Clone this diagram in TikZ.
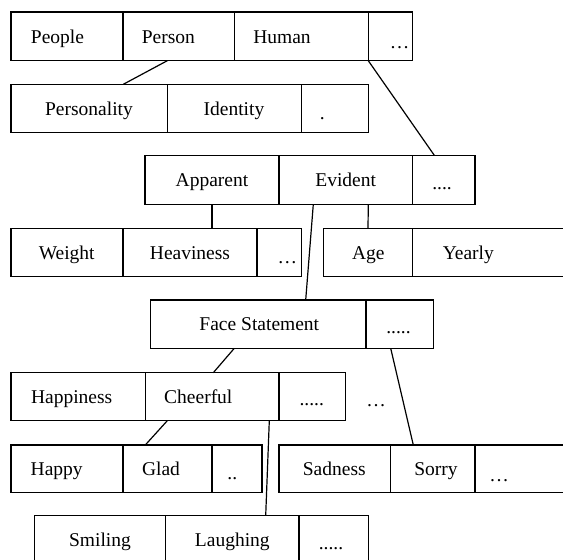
\documentclass[tikz,border=0pt]{standalone}
\usepackage{fontspec}
\setmainfont{Liberation Serif}
\begin{document}
\begin{tikzpicture}[x=1pt,y=-1pt,
  cell/.style={draw,line width=1.5pt,rectangle,inner sep=0pt,outer sep=0pt,anchor=north west},
  txt/.style={anchor=base,inner sep=0pt,font=\fontsize{19.5}{23}\selectfont},
  link/.style={line width=1.2pt}]
\useasboundingbox (0,0) rectangle (563,560);
\clip (0,0) rectangle (563,560);
\fill[white] (0,0) rectangle (563,560);
% Row 1
\node[cell,minimum width=112pt,minimum height=48.7pt] (people) at (11,12) {};
\node[cell,minimum width=111.7pt,minimum height=48.7pt] (person) at (123,12) {};
\node[cell,minimum width=133.6pt,minimum height=48.7pt] (human) at (234.7,12) {};
\node[cell,minimum width=44.4pt,minimum height=48.7pt] (dots1) at (368.3,12) {};
\node[txt] (tpeople) at (57.5,43) {People};
\node[txt] (tperson) at (168.3,43) {Person};
\node[txt] (thuman) at (282,43) {Human};
\node[txt] (tdots1) at (399.5,48) {…};
% Row 2
\node[cell,minimum width=156.3pt,minimum height=48.4pt] (personality) at (11,84.3) {};
\node[cell,minimum width=134.4pt,minimum height=48.4pt] (identity) at (167.3,84.3) {};
\node[cell,minimum width=66.6pt,minimum height=48.4pt] (dots2) at (301.7,84.3) {};
\node[txt] (tpersonality) at (89,115) {Personality};
\node[txt] (tidentity) at (234,115) {Identity};
\node[txt] (tdots2) at (322.3,119.5) {.};
% Row 3
\node[cell,minimum width=134pt,minimum height=49pt] (apparent) at (145,155.3) {};
\node[cell,minimum width=133.7pt,minimum height=49pt] (evident) at (279,155.3) {};
\node[cell,minimum width=62.3pt,minimum height=49pt] (dots3) at (412.7,155.3) {};
\node[txt] (tapparent) at (212,186.3) {Apparent};
\node[txt] (tevident) at (345.7,186.3) {Evident};
\node[txt] (tdots3) at (442,189.5) {....};
% Row 4
\node[cell,minimum width=112pt,minimum height=48.4pt] (weight) at (11,228.3) {};
\node[cell,minimum width=134pt,minimum height=48.4pt] (heaviness) at (123,228.3) {};
\node[cell,minimum width=44.7pt,minimum height=48.4pt] (dots4) at (257,228.3) {};
\node[cell,minimum width=89.4pt,minimum height=48.4pt] (age) at (323.3,228.3) {};
\node[cell,minimum width=170pt,minimum height=48.4pt] (yearly) at (412.7,228.3) {};
\node[txt] (tweight) at (66.7,259) {Weight};
\node[txt] (theaviness) at (190,259) {Heaviness};
\node[txt] (tdots4) at (287.3,263) {…};
\node[txt] (tage) at (368.3,259) {Age};
\node[txt] (tyearly) at (468.3,259) {Yearly};
% Row 5
\node[cell,minimum width=215.3pt,minimum height=48.3pt] (face) at (150.7,300) {};
\node[cell,minimum width=67.3pt,minimum height=48.3pt] (dots5) at (366,300) {};
\node[txt] (tface) at (259.3,330.7) {Face Statement};
\node[txt] (tdots5) at (398.5,333.5) {.....};
% Row 6
\node[cell,minimum width=134.3pt,minimum height=48pt] (happiness) at (11,372.7) {};
\node[cell,minimum width=133.7pt,minimum height=48pt] (cheerful) at (145.3,372.7) {};
\node[cell,minimum width=66.7pt,minimum height=48pt] (dots6) at (279,372.7) {};
\node[txt] (thappiness) at (71.7,403.2) {Happiness};
\node[txt] (tcheerful) at (198.3,403.2) {Cheerful};
\node[txt] (tdots6) at (311.7,405) {.....};
\node[txt] (tdots6b) at (376,406.5) {…};
% Row 7
\node[cell,minimum width=112pt,minimum height=47.7pt] (happy) at (11,445) {};
\node[cell,minimum width=89pt,minimum height=47.7pt] (glad) at (123,445) {};
\node[cell,minimum width=50pt,minimum height=47.7pt] (dots7) at (212,445) {};
\node[cell,minimum width=111.7pt,minimum height=47.7pt] (sadness) at (279,445) {};
\node[cell,minimum width=84.3pt,minimum height=47.7pt] (sorry) at (390.7,445) {};
\node[cell,minimum width=120pt,minimum height=47.7pt] (dots7b) at (475,445) {};
\node[txt] (thappy) at (56.7,475.3) {Happy};
\node[txt] (tglad) at (161,475.3) {Glad};
\node[txt] (tdots7) at (232.3,479) {..};
\node[txt] (tsadness) at (334.3,475.3) {Sadness};
\node[txt] (tsorry) at (436,475.3) {Sorry};
\node[txt] (tdots7b) at (499,481) {…};
% Row 8
\node[cell,minimum width=131.4pt,minimum height=50pt] (smiling) at (34.3,515.7) {};
\node[cell,minimum width=133.3pt,minimum height=50pt] (laughing) at (165.7,515.7) {};
\node[cell,minimum width=69.3pt,minimum height=50pt] (dots8) at (299,515.7) {};
\node[txt] (tsmiling) at (100,546.5) {Smiling};
\node[txt] (tlaughing) at (232.3,546.5) {Laughing};
\node[txt] (tdots8) at (331,549.5) {.....};
% Connectors
\draw[link] ([xshift=44.3pt]person.south west) -- ([xshift=112.3pt]personality.north west);
\draw[link] (human.south east) -- ([xshift=21.6pt]dots3.north west);
\draw[link] ([xshift=67pt]apparent.south west) -- ([xshift=89pt]heaviness.north west);
\draw[link] ([xshift=34.3pt]evident.south west) -- ([xshift=155pt]face.north west);
\draw[link] ([xshift=89.3pt]evident.south west) -- (age.north);
\draw[link] ([xshift=83.6pt]face.south west) -- ([xshift=68pt]cheerful.north west);
\draw[link] ([xshift=24.7pt]dots5.south west) -- ([xshift=22.6pt]sorry.north west);
\draw[link] ([xshift=22pt]cheerful.south west) -- ([xshift=22.3pt]glad.north west);
\draw[link] ([xshift=124pt]cheerful.south west) -- ([xshift=100pt]laughing.north west);
\end{tikzpicture}
\end{document}
